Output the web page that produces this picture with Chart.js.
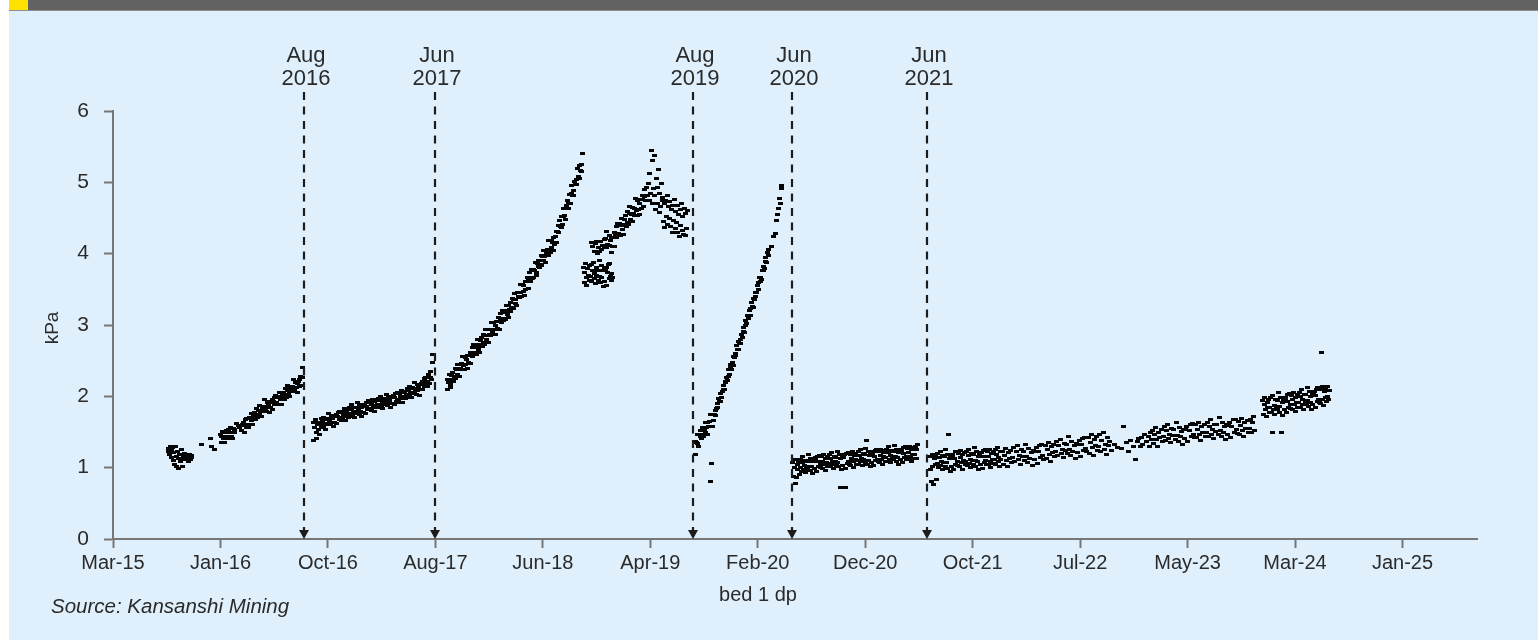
<!DOCTYPE html>
<html>
<head>
<meta charset="utf-8">
<script src="https://cdn.jsdelivr.net/npm/chart.js@4.4.1/dist/chart.umd.min.js"></script>
<style>
  html, body { margin: 0; padding: 0; }
  body { width: 1538px; height: 640px; position: relative; overflow: hidden; background: #ffffff; }
  #panel { position: absolute; left: 9px; top: 0; width: 1529px; height: 640px; background: #dff0fc; }
  #bar { position: absolute; left: 9px; top: 0; width: 1529px; height: 10px; background: #626262; border-bottom: 1px solid #8e8e8e; }
  #flag { position: absolute; left: 0; top: 0; width: 19px; height: 10px; background: #ffe200; }
  #chart { position: absolute; left: 0; top: 0; }
</style>
</head>
<body>
<div id="panel"></div>
<div id="bar"><div id="flag"></div></div>
<canvas id="chart" width="1538" height="640"></canvas>
<script>
// x-axis category labels, one every 300 days from the axis origin
const TICK_LABELS = ['Mar-15', 'Jan-16', 'Oct-16', 'Aug-17', 'Jun-18', 'Apr-19', 'Feb-20',
                     'Dec-20', 'Oct-21', 'Jul-22', 'May-23', 'Mar-24', 'Jan-25'];

// marked events (vertical arrows)
const EVENT_DATES  = ['2016-08-21', '2017-08-24', '2019-08-13', '2020-05-17', '2021-05-28'];
const EVENT_MONTHS = ['Aug', 'Jun', 'Aug', 'Jun', 'Jun'];
const EVENT_YEARS  = ['2016', '2017', '2019', '2020', '2021'];

// bed 1 differential pressure readings (kPa), one array per run
const run2015 = [1.22,1.27,1.18,1.29,1.14,1.24,1.28,1.10,1.21,1.05,1.29,1.16,1.02,1.23,1.13,0.99,1.19,1.08,1.25,1.12,
  1.01,1.17,1.14,1.20,1.11,1.15,1.18,1.13,1.09,1.16,1.19,1.12,1.14,1.17];
const run2015Late = [1.33,null,null,null,null,null,1.41,1.30,null,1.26];
const run2016 = [1.47,1.35,1.44,1.51,1.41,1.35,1.49,1.44,1.52,1.41, 1.44,1.53,1.41,1.50,1.57,1.44,1.49,1.41,1.55,1.49,
  1.54,null,1.62,null,null,1.59,null,1.56,null,1.59, 1.52,1.60,1.64,1.50,1.61,1.67,1.57,1.69,1.60,1.57,
  1.71,1.60,1.69,1.76,1.66,1.60,1.74,1.70,1.77,1.67, 1.73,1.83,1.71,1.80,1.87,1.74,1.79,1.72,1.85,1.80,
  1.86,1.79,1.95,1.83,1.79,1.92,1.84,1.89,1.78,1.93, 1.84,1.92,1.96,1.82,1.93,1.99,1.89,2.01,1.92,1.89,
  2.00,1.89,1.98,2.05,1.95,1.89,2.03,1.99,2.06,1.96, 2.01,2.11,1.99,2.08,2.15,2.02,2.07,2.00,2.13,2.08,
  2.14,2.07,2.23,2.11,2.07,2.20,2.12,2.18,2.06,2.21, 2.14,2.23,2.28,2.15,2.27,2.40];
const run2016b = [1.63,1.38,1.57,1.67,1.50,1.41,1.61,1.53,1.64,1.47, 1.60,1.69,1.56,1.65,1.71,1.58,1.62,1.54,1.67,1.61,
  1.69,1.61,1.76,1.65,1.60,1.73,1.64,1.69,1.58,1.72, 1.64,1.72,1.75,1.62,1.72,1.78,1.67,1.79,1.70,1.66,
  1.79,1.67,1.75,1.83,1.72,1.66,1.79,1.74,1.82,1.71, 1.76,1.85,1.72,1.82,1.88,1.75,1.79,1.71,1.85,1.79,
  1.84,1.76,1.91,1.80,1.75,1.88,1.79,1.84,1.72,1.87, 1.78,1.86,1.89,1.76,1.86,1.92,1.81,1.94,1.83,1.81,
  1.92,1.80,1.88,1.96,1.85,1.79,1.93,1.87,1.95,1.84, 1.88,1.97,1.84,1.94,2.00,1.87,1.91,1.83,1.97,1.91,
  1.96,1.88,2.03,1.92,1.87,2.00,1.91,1.96,1.84,1.99, 1.90,1.98,2.01,1.88,1.98,2.04,1.93,2.06,1.96,1.93,
  2.04,1.92,2.00,2.08,1.97,1.91,2.05,2.00,2.07,1.97, 2.02,2.11,1.98,2.08,2.14,2.02,2.06,1.98,2.12,2.06,
  2.11,2.04,2.19,2.08,2.03,2.17,2.08,2.13,2.01,2.16, 2.10,2.18,2.21,2.09,2.19,2.25,2.14,2.27,2.17,2.14,
  2.21,2.30,2.18,2.27,2.35,2.24,2.48,2.58];
const run2017 = [2.23,2.10,2.20,2.30,2.17,2.12,2.29,2.24,2.33,2.21, 2.28,2.39,2.25,2.37,2.45,2.31,2.37,2.28,2.45,2.39,
  2.46,2.37,2.56,2.43,2.38,2.55,2.45,2.52,2.39,2.57, 2.47,2.57,2.62,2.46,2.59,2.68,2.56,2.72,2.61,2.58,
  2.72,2.59,2.69,2.79,2.66,2.61,2.78,2.73,2.82,2.70, 2.76,2.87,2.73,2.85,2.93,2.79,2.85,2.76,2.93,2.87,
  2.94,2.85,3.04,2.91,2.86,3.03,2.93,3.00,2.87,3.05, 2.95,3.05,3.10,2.94,3.07,3.16,3.04,3.20,3.09,3.06,
  3.21,3.08,3.18,3.28,3.15,3.10,3.27,3.22,3.31,3.19, 3.25,3.37,3.23,3.36,3.44,3.30,3.36,3.28,3.45,3.40,
  3.46,3.38,3.57,3.45,3.40,3.57,3.47,3.55,3.42,3.61, 3.50,3.61,3.66,3.51,3.64,3.73,3.61,3.78,3.67,3.65,
  3.78,3.66,3.76,3.87,3.74,3.69,3.86,3.82,3.91,3.80, 3.85,3.97,3.83,3.96,4.04,3.90,3.96,3.88,4.05,4.00,
  4.06,3.98,4.18,4.05,4.01,4.18,4.09,4.16,4.04,4.23, 4.13,4.24,4.31,4.16,4.31,4.40,4.30,4.47,4.38,4.36,
  4.52,4.41,4.52,4.64,4.53,4.48,4.67,4.64,4.74,4.64, 4.70,4.83,4.70,4.85,4.95,4.81,4.89,4.82,5.01,4.97,
  5.04,4.97,5.19,5.08,5.05,5.24,5.16,5.25,5.15,5.40];
const run2018 = [3.81,3.59,3.74,3.86,3.67,3.56,3.79,3.70,3.83,3.63, 3.68,3.85,3.61,3.77,3.88,3.65,3.72,3.58,3.81,3.70,
  3.77,3.63,3.90,3.68,3.59,3.83,3.67,3.76,3.54,3.79, 3.61,3.76,3.81,3.56,3.74,3.85,3.65,3.86,3.68,3.63, 3.72,3.66];
const run2018b = [4.16,null,4.10,null,4.03,null,4.14,null,4.17,4.00, 4.09,null,4.03,4.17,null,4.06,4.12,null,4.20,4.10,
  4.21,4.08,4.31,4.13,null,4.25,4.11,4.19,4.01,4.22, 4.10,4.23,4.30,4.10,4.27,4.38,4.22,4.42,4.28,4.25,
  4.42,4.25,4.39,4.50,4.34,4.27,4.48,4.41,4.53,4.38, 4.44,4.59,4.41,4.56,4.66,4.48,4.55,4.45,4.65,4.57,
  4.64,4.53,4.77,4.60,4.53,4.74,4.62,4.71,4.55,4.76, 4.63,4.76,4.82,4.66,4.80,4.90,4.74,4.93,4.81,4.75,
  4.98,4.74,5.12,4.85,5.45,4.70,5.30,4.92,5.38,4.81, 4.62,5.05,4.71,4.93,5.18,4.58,4.84,4.66,4.98,4.75,
  4.79,4.45,4.70,4.36,4.74,4.52,4.81,4.41,4.66,4.50, 4.73,4.38,4.62,4.30,4.68,4.47,4.76,4.35,4.59,4.44,
  4.68,4.29,4.55,4.24,4.62,4.40,4.71,4.33,4.52,4.27, 4.64,4.26,4.57,4.35,4.60];
const run2019 = [1.36,1.18,1.35,1.46,1.34,1.29,1.47,1.43,1.52,1.41, 1.46,1.57,1.43,1.54,1.64,1.49,1.56,1.47,1.64,1.58,
  1.65,0.81,1.75,1.06,1.58,1.74, 1.66,1.74,1.80,1.73,1.83,1.90,1.85,1.97,1.93,1.93,
  2.04,1.98,2.07,2.15,2.10,2.09,2.21,2.19,2.27,2.22, 2.28,2.37,2.31,2.40,2.44,2.38,2.47,2.43,2.56,2.54,
  2.60,2.57,2.71,2.66,2.65,2.77,2.74,2.79,2.74,2.87, 2.83,2.91,2.97,2.90,3.00,3.07,3.02,3.13,3.09,3.09,
  3.20,3.14,3.23,3.31,3.26,3.25,3.37,3.36,3.45,3.40, 3.46,3.55,3.50,3.59,3.66,3.61,3.67,3.64,3.77,3.76,
  3.82,3.79,3.94,3.89,3.88,4.01,3.98, 4.06,null,null,4.10,null,null,4.24,null,null,
  4.28,null,4.47,4.55,null,4.63,4.78,4.70,4.91,4.96];
const run2020 = [1.07,0.88,1.00,1.11,0.78,0.86,1.05,0.97,1.09,0.91, 1.00,1.12,0.95,1.07,1.15,0.98,1.03,0.93,1.10,1.02,
  1.09,0.98,1.18,1.02,0.96,1.13,1.01,1.08,0.92,1.10, 0.99,1.10,1.14,0.95,1.08,1.16,1.02,1.17,1.04,1.00,
  1.15,0.99,1.09,1.18,1.04,0.96,1.13,1.07,1.16,1.01, 1.06,1.18,1.01,1.13,1.21,1.04,1.09,0.99,1.16,1.08,
  1.14,1.03,1.23,1.07,1.01,1.18,0.72,1.13,0.97,1.15, 1.03,1.14,1.18,0.99,0.72,1.20,1.06,1.21,1.08,1.04,
  1.19,1.03,1.13,1.22,1.08,1.00,1.17,1.11,1.20,1.05, 1.10,1.22,1.05,1.17,1.25,1.08,1.13,1.03,1.20,1.12,
  1.18,1.07,1.27,1.38,1.05,1.22,1.10,1.17,1.01,1.19, 1.07,1.18,1.22,1.03,1.16,1.24,1.10,1.25,1.12,1.08,
  1.23,1.07,1.17,1.26,1.12,1.04,1.21,1.15,1.24,1.09, 1.14,1.26,1.09,1.21,1.29,1.12,1.17,1.07,1.24,1.16,
  1.22,1.11,1.31,1.15,1.09,1.26,1.14,1.21,1.05,1.23, 1.11,1.22,1.26,1.07,1.20,1.28,1.14,1.29,1.16,1.12,
  1.27,1.11,1.21,1.30,1.16,1.08,1.25,1.19,1.28,1.13, 1.18,1.30,1.13,1.25,1.33];
const run2021 = [1.15,0.97,0.80,1.19,1.02,0.76,1.13,1.05,1.16,0.83, 1.06,1.20,1.00,1.14,1.23,1.03,1.09,0.97,1.17,1.07,
  1.15,1.02,1.25,1.07,0.99,1.19,1.47,1.13,0.95,1.16, 1.02,1.14,1.19,0.97,1.13,1.22,1.05,1.23,1.08,1.03,
  1.20,1.02,1.14,1.24,1.07,0.98,1.18,1.10,1.21,1.04, 1.09,1.23,1.03,1.17,1.26,1.06,1.12,1.00,1.20,1.10,
  1.18,1.05,1.28,1.10,1.02,1.22,1.08,1.16,0.98,1.19, 1.04,1.16,1.21,0.99,1.15,1.24,1.07,1.25,1.10,1.05,
  1.22,1.04,1.16,1.26,1.09,1.00,1.20,1.12,1.23,1.06, 1.11,1.25,1.05,1.19,1.28,1.08,1.14,1.02,1.22,1.12];
const run2022 = [1.23,1.05,1.17,1.27,1.10,1.01,1.21,1.13,1.24,1.07, 1.14,1.28,1.08,1.22,1.31,1.11,1.17,1.05,1.25,1.15,
  1.23,1.10,1.33,1.15,1.07,1.27,1.13,1.21,1.03,1.24, 1.11,1.23,1.28,1.06,1.22,1.31,1.14,1.32,1.17,1.12,
  1.31,1.13,1.25,1.35,1.18,1.09,1.29,1.21,1.32,1.15, 1.23,1.37,1.17,1.31,1.40,1.20,1.26,1.14,1.34,1.24,
  1.33,1.20,1.43,1.25,1.17,1.37,1.23,1.31,1.13,1.34, 1.21,1.33,1.38,1.16,1.32,1.41,1.24,1.42,1.27,1.22,
  1.42,1.20,1.35,1.47,1.28,1.17,1.40,1.31,1.44,1.24, 1.29,1.46,1.22,1.38,1.49,1.26,1.33,1.19,1.42,1.31,
  1.36,null,1.24,null,null,1.33,null,1.28,null,null, null,1.27,null,1.58,null,null,1.35,null,1.22,null,
  1.38,null,1.29,null,1.11,null,1.36,1.41,null,1.30, 1.42,1.33,null,1.47,1.36,null,1.44,1.30,1.49,1.39,
  1.52,1.34,1.46,1.56,1.39,1.30,1.50,1.42,1.53,1.36, 1.44,1.58,1.38,1.52,1.61,1.41,1.47,1.35,1.55,1.45,
  1.53,1.40,1.63,1.45,1.37,1.57,1.43,1.51,1.33,1.54, 1.41,1.53,1.58,1.36,1.52,1.61,1.44,1.62,1.47,1.42,
  1.60,1.42,1.54,1.64,1.47,1.38,1.58,1.50,1.61,1.44, 1.50,1.64,1.44,1.58,1.67,1.47,1.53,1.41,1.61,1.51,
  1.60,1.47,1.70,1.52,1.44,1.64,1.50,1.58,1.40,1.61, 1.47,1.59,1.64,1.42,1.58,1.67,1.50,1.68,1.53,1.48,
  1.65,1.47,1.59,1.69,1.52,1.43,1.63,1.55,1.66,1.49, 1.55,1.68,1.49,1.63,1.72,1.52];
const run2024 = [1.94,1.75,1.88,1.99,1.81,1.72,1.92,1.84,1.96,1.78, 1.84,1.98,1.77,1.50,2.01,1.81,1.87,1.74,1.95,1.85,
  1.94,1.81,2.05,1.86,1.78,1.99,1.49,1.92,1.73,1.95, 1.81,1.94,1.99,1.77,1.93,2.02,1.85,2.04,1.88,1.83,
  2.01,1.82,1.95,2.06,1.88,1.79,1.99,1.91,2.03,1.85, 1.92,2.06,1.85,2.00,2.09,1.89,1.95,1.82,2.03,1.93,
  2.02,1.89,2.13,1.94,1.86,2.07,1.92,2.00,1.81,2.03, 1.89,2.02,2.07,1.85,2.01,2.10,1.93,2.12,1.96,1.91,
  2.09,1.90,2.62,2.14,1.96,1.87,2.07,1.99,2.11,1.93, 2.00,2.14,1.95,2.08];

// each run: first reading date, days between readings, readings
const RUNS = [
  ['2015-08-09', 2, run2015],
  ['2015-11-11', 4, run2015Late],
  ['2016-01-02', 2, run2016],
  ['2016-09-17', 2, run2016b],
  ['2017-09-26', 2, run2017],
  ['2018-10-11', 2, run2018],
  ['2018-11-02', 2, run2018b],
  ['2019-08-19', 2, run2019],
  ['2020-05-18', 2, run2020],
  ['2021-06-05', 2, run2021],
  ['2021-12-23', 3, run2022],
  ['2023-12-21', 2, run2024]
];

const DAY_MS = 86400000;
const dayOf = iso => Date.parse(iso + 'T00:00:00Z') / DAY_MS;
const AXIS_START = dayOf('2015-03-08');
const AXIS_END = AXIS_START + 3808;
const TICK_STEP = 300;

const points = [];
RUNS.forEach(([start, step, vals]) => {
  const d0 = dayOf(start);
  vals.forEach((v, i) => { if (v !== null) points.push({ x: d0 + i * step, y: v }); });
});

const FONT = '"Liberation Sans", Arial, Helvetica, sans-serif';
const AXIS_GREY = '#767676';
const TEXT = '#2a2a2a';

// small blot used for each reading
const dash = document.createElement('canvas');
dash.width = 5; dash.height = 3;
const dctx = dash.getContext('2d');
dctx.fillStyle = '#060606';
dctx.fillRect(0, 0, 5, 3);

const annotations = {
  id: 'annotations',
  afterDraw(chart) {
    const { ctx, chartArea, scales: { x } } = chart;
    const bottom = chartArea.bottom;
    ctx.save();
    EVENT_DATES.forEach((iso, i) => {
      const px = Math.round(x.getPixelForValue(dayOf(iso)));
      ctx.strokeStyle = '#1c1c1c';
      ctx.lineWidth = 2.2;
      ctx.setLineDash([8, 6.5]);
      ctx.beginPath();
      ctx.moveTo(px, 92);
      ctx.lineTo(px, bottom - 8);
      ctx.stroke();
      ctx.setLineDash([]);
      ctx.fillStyle = '#1c1c1c';
      ctx.beginPath();
      ctx.moveTo(px - 5, bottom - 9);
      ctx.lineTo(px + 5, bottom - 9);
      ctx.lineTo(px, bottom);
      ctx.closePath();
      ctx.fill();
      ctx.fillStyle = TEXT;
      ctx.font = '22px ' + FONT;
      ctx.textAlign = 'center';
      ctx.textBaseline = 'alphabetic';
      ctx.fillText(EVENT_MONTHS[i], px + 2, 62);
      ctx.fillText(EVENT_YEARS[i], px + 2, 85);
    });
    // axis titles
    ctx.fillStyle = TEXT;
    ctx.font = '20px ' + FONT;
    ctx.textAlign = 'center';
    ctx.fillText('bed 1 dp', 758, 601);
    ctx.save();
    ctx.translate(53, 328);
    ctx.rotate(-Math.PI / 2);
    ctx.textBaseline = 'middle';
    ctx.font = '19px ' + FONT;
    ctx.fillText('kPa', 0, 0);
    ctx.restore();
    // source line
    ctx.textAlign = 'left';
    ctx.textBaseline = 'alphabetic';
    ctx.font = 'italic 20.5px ' + FONT;
    ctx.fillText('Source: Kansanshi Mining', 51, 613);
    ctx.restore();
  }
};

new Chart(document.getElementById('chart'), {
  type: 'scatter',
  data: {
    datasets: [{
      label: 'bed 1 dp',
      data: points,
      pointStyle: dash,
      pointRadius: 2,
      pointHoverRadius: 2,
      showLine: false
    }]
  },
  options: {
    responsive: false,
    animation: false,
    events: [],
    layout: { padding: { top: 111, right: 61, left: 0, bottom: 0 } },
    plugins: { legend: { display: false }, tooltip: { enabled: false } },
    scales: {
      x: {
        type: 'linear',
        min: AXIS_START,
        max: AXIS_END,
        afterBuildTicks: s => { s.ticks = TICK_LABELS.map((_, i) => ({ value: AXIS_START + i * TICK_STEP })); },
        afterFit: s => { s.height = 101; },
        grid: { drawOnChartArea: false, drawTicks: true, tickLength: 9, tickWidth: 2, tickColor: AXIS_GREY },
        border: { display: true, color: AXIS_GREY, width: 2 },
        ticks: {
          autoSkip: false, maxRotation: 0, padding: 3, color: TEXT,
          font: { family: FONT, size: 20 },
          callback: (v, i) => TICK_LABELS[i]
        }
      },
      y: {
        min: 0,
        max: 6,
        afterFit: s => { s.width = 113; },
        grid: { drawOnChartArea: false, drawTicks: true, tickLength: 9, tickWidth: 2, tickColor: AXIS_GREY },
        border: { display: true, color: AXIS_GREY, width: 2 },
        ticks: { stepSize: 1, padding: 15, color: TEXT, font: { family: FONT, size: 21 } }
      }
    }
  },
  plugins: [annotations]
});
</script>
</body>
</html>
